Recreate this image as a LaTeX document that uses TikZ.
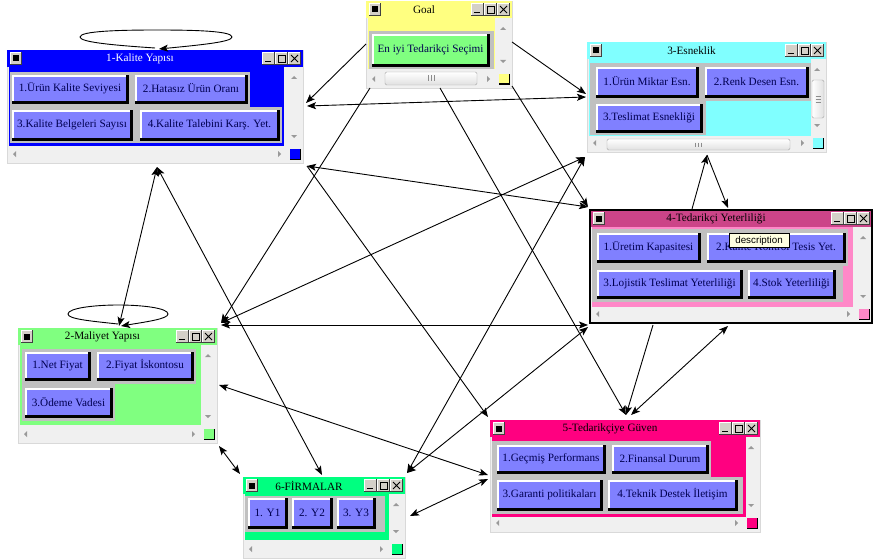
\documentclass[tikz,border=0pt]{standalone}
\usepackage{fontspec}
\setmainfont{Liberation Serif}
\newfontfamily\tipfont{Liberation Sans}
\usetikzlibrary{arrows.meta}
\definecolor{winbg}{HTML}{F0F0F0}
\definecolor{tkgray}{HTML}{D4D0C8}
\definecolor{panelgray}{HTML}{C0C0C0}
\definecolor{btnface}{HTML}{8080FF}
\definecolor{btntxt}{HTML}{000050}
\definecolor{kalitec}{HTML}{0000FF}
\definecolor{goalc}{HTML}{FFFF80}
\definecolor{goalbtn}{HTML}{80FF80}
\definecolor{esnekc}{HTML}{80FFFF}
\definecolor{tedtitle}{HTML}{CC4488}
\definecolor{tedbody}{HTML}{FF88C8}
\definecolor{maliyetc}{HTML}{80FF80}
\definecolor{guvenc}{HTML}{FF0080}
\definecolor{firmac}{HTML}{00FF80}
\definecolor{tipyellow}{HTML}{FFFFE1}
\tikzset{
  arr/.style={draw=black, line width=0.9pt, -{Stealth[length=9pt,width=7pt,inset=2pt]}},
  darr/.style={draw=black, line width=0.9pt, {Stealth[length=9pt,width=7pt,inset=2pt]}-{Stealth[length=9pt,width=7pt,inset=2pt]}},
  btntext/.style={inner sep=0pt, font=\fontsize{11.2}{12}\selectfont, text=btntxt},
  titletext/.style={inner sep=0pt, font=\fontsize{11.2}{12}\selectfont},
  tiptext/.style={inner sep=0pt, font=\tipfont\fontsize{9.8}{11}\selectfont},
}
\newcommand\TkBtn[4]{%
  \fill[black!75] (#1,#2) rectangle (#3,#4);
  \fill[white] (#1,#2) rectangle ({#3-1},{#4-1});
  \fill[tkgray] ({#1+1},{#2+1}) rectangle ({#3-1},{#4-1});
}
\newcommand\PanBtn[7]{%
  \fill[black] (#2,#3) rectangle (#4,#5);
  \fill[white] (#2,#3) rectangle ({#4-3},{#5-3});
  \fill[#6] ({#2+2},{#3+2}) rectangle ({#4-3},{#5-3});
  \node[btntext] (#1) at ({(#2+#4)/2-0.5},{(#3+#5)/2-1}) {#7};
}
\newcommand\WinFrame[8]{%
  \fill[winbg] (#1,#2) rectangle (#3,#4);
  \draw[line width=0.4pt, black!15] (#1,#2) rectangle (#3,#4);
  \fill[#5] (#1,#2) rectangle (#3,{#2+17});
  \TkBtn{#1+3}{#2+2}{#1+15}{#2+15}
  \fill[black] ({#1+6},{#2+5.5}) rectangle ({#1+12},{#2+11.5});
  \TkBtn{#3-41}{#2+2}{#3-28}{#2+15}
  \draw[black,line width=1.5pt] ({#3-38},{#2+11.5}) -- ({#3-32},{#2+11.5});
  \TkBtn{#3-28}{#2+2}{#3-15}{#2+15}
  \draw[black,line width=0.8pt] ({#3-25},{#2+5}) rectangle ({#3-18},{#2+12});
  \draw[black,line width=1.2pt] ({#3-25},{#2+5.4}) -- ({#3-18},{#2+5.4});
  \TkBtn{#3-15}{#2+2}{#3-2}{#2+15}
  \draw[black,line width=1pt] ({#3-12},{#2+5}) -- ({#3-5},{#2+12}) ({#3-12},{#2+12}) -- ({#3-5},{#2+5});
  \node[titletext,text=#6] (#8) at ({(#1+#3)/2-15},{#2+9}) {#7};
}
\newcommand\WinScroll[5]{%
  \fill[black!40] ({#3-12},{#2+29}) -- ({#3-6},{#2+29}) -- ({#3-9},{#2+26}) -- cycle;
  \fill[black!40] ({#3-12},{#4-28}) -- ({#3-6},{#4-28}) -- ({#3-9},{#4-25}) -- cycle;
  \fill[black!40] ({#1+9},{#4-12}) -- ({#1+9},{#4-6}) -- ({#1+6},{#4-9}) -- cycle;
  \fill[black!40] ({#3-25},{#4-12}) -- ({#3-25},{#4-6}) -- ({#3-22},{#4-9}) -- cycle;
  \fill[black] ({#3-13},{#4-14}) rectangle ({#3-2},{#4-3});
  \fill[#5] ({#3-13},{#4-14}) rectangle ({#3-3.5},{#4-4.5});
}
\newcommand\HThumb[4]{%
  \shade[top color=white, bottom color=black!12, draw=black!35, rounded corners=1.5pt] (#1,#2) rectangle (#3,#4);
  \draw[black!45, line width=0.6pt] ({(#1+#3)/2-3},{#2+3.5}) -- ({(#1+#3)/2-3},{#4-3.5})
    ({(#1+#3)/2},{#2+3.5}) -- ({(#1+#3)/2},{#4-3.5})
    ({(#1+#3)/2+3},{#2+3.5}) -- ({(#1+#3)/2+3},{#4-3.5});
}
\newcommand\VThumb[4]{%
  \shade[left color=white, right color=black!12, draw=black!35, rounded corners=1.5pt] (#1,#2) rectangle (#3,#4);
  \draw[black!45, line width=0.6pt] ({#1+3.5},{(#2+#4)/2-3}) -- ({#3-3.5},{(#2+#4)/2-3})
    ({#1+3.5},{(#2+#4)/2}) -- ({#3-3.5},{(#2+#4)/2})
    ({#1+3.5},{(#2+#4)/2+3}) -- ({#3-3.5},{(#2+#4)/2+3});
}
\begin{document}
\begin{tikzpicture}[x=1pt,y=-1pt]
\useasboundingbox (0,0) rectangle (882,559);
\fill[white] (0,0) rectangle (882,559);

% ---------------- Goal
\WinFrame{366}{1}{512}{88}{goalc}{black}{Goal}{goalT}
\fill[goalc] (368,18) rectangle (495,69);
\fill[panelgray] (369,31) rectangle (494,69);
\PanBtn{goalB}{372}{34}{490}{67}{goalbtn}{En iyi Tedarikçi Seçimi}
\WinScroll{366}{1}{512}{88}{goalc}
\HThumb{385}{72}{477}{85}

% ---------------- 1 Kalite
\WinFrame{7}{50}{303}{163}{kalitec}{white}{1-Kalite Yapısı}{kalT}
\fill[kalitec] (9,67) rectangle (284,146);
\fill[panelgray] (10,72) rectangle (250,107);
\fill[panelgray] (10,107) rectangle (282,143);
\PanBtn{kalB1}{12}{75}{129}{104}{btnface}{1.Ürün Kalite Seviyesi}
\PanBtn{kalB2}{135}{75}{248}{104}{btnface}{2.Hatasız Ürün Oranı}
\PanBtn{kalB3}{12}{110}{133}{141}{btnface}{3.Kalite Belgeleri Sayısı}
\PanBtn{kalB4}{140}{110}{280}{141}{btnface}{4.Kalite Talebini Karş. Yet.}
\WinScroll{7}{50}{303}{163}{kalitec}

% ---------------- 3 Esneklik
\WinFrame{587}{42}{826}{152}{esnekc}{black}{3-Esneklik}{esnT}
\fill[esnekc] (589,59) rectangle (811,136);
\fill[panelgray] (590,63) rectangle (811,101);
\fill[panelgray] (590,101) rectangle (706,135);
\PanBtn{esnB1}{596}{67}{699}{98}{btnface}{1.Ürün Miktar Esn.}
\PanBtn{esnB2}{705}{67}{809}{98}{btnface}{2.Renk Desen Esn.}
\PanBtn{esnB3}{596}{104}{703}{133}{btnface}{3.Teslimat Esnekliği}
\WinScroll{587}{42}{826}{152}{esnekc}
\VThumb{812}{80}{824}{118}
\HThumb{607}{139}{790}{150}

% ---------------- 4 Tedarikci Yeterliligi
\WinFrame{590}{210}{872}{323}{tedtitle}{black}{4-Tedarikçi Yeterliliği}{tedT}
\fill[tedbody] (592,227) rectangle (853,307);
\fill[panelgray] (592,229) rectangle (848,266);
\fill[panelgray] (592,266) rectangle (843,302);
\PanBtn{tedB1}{597}{233}{701}{263}{btnface}{1.Üretim Kapasitesi}
\PanBtn{tedB2}{707}{233}{846}{263}{btnface}{2.Kalite Kontrol Tesis Yet.}
\PanBtn{tedB3}{597}{270}{743}{299}{btnface}{3.Lojistik Teslimat Yeterliliği}
\PanBtn{tedB4}{748}{270}{836}{299}{btnface}{4.Stok Yeterliliği}
\WinScroll{590}{210}{872}{323}{tedbody}
\draw[black,line width=1.6pt] (590,210) rectangle (872,323);
\fill[tipyellow] (729,233) rectangle (789,247);
\draw[black,line width=0.6pt] (729,233) rectangle (789,247);
\node[tiptext] (tipN) at (759,240.5) {description};

% ---------------- 2 Maliyet
\WinFrame{18}{328}{217}{443}{maliyetc}{black}{2-Maliyet Yapısı}{malT}
\fill[maliyetc] (20,345) rectangle (201,425);
\fill[panelgray] (22,349) rectangle (196,384);
\fill[panelgray] (22,384) rectangle (115,421);
\PanBtn{malB1}{25}{352}{91}{381}{btnface}{1.Net Fiyat}
\PanBtn{malB2}{97}{352}{194}{381}{btnface}{2.Fiyat İskontosu}
\PanBtn{malB3}{25}{388}{113}{418}{btnface}{3.Ödeme Vadesi}
\WinScroll{18}{328}{217}{443}{maliyetc}

% ---------------- 5 Guven
\WinFrame{490}{420}{760}{532}{guvenc}{black}{5-Tedarikçiye Güven}{guvT}
\fill[guvenc] (492,437) rectangle (746,517);
\fill[panelgray] (492,441) rectangle (711,477);
\fill[panelgray] (492,477) rectangle (743,514);
\PanBtn{guvB1}{497}{445}{606}{474}{btnface}{1.Geçmiş Performans}
\PanBtn{guvB2}{612}{445}{709}{474}{btnface}{2.Finansal Durum}
\PanBtn{guvB3}{497}{480}{603}{511}{btnface}{3.Garanti politikaları}
\PanBtn{guvB4}{608}{480}{738}{511}{btnface}{4.Teknik Destek İletişim}
\WinScroll{490}{420}{760}{532}{guvenc}

% ---------------- 6 Firmalar
\WinFrame{243}{477}{405}{558}{firmac}{black}{6-FİRMALAR}{firT}
\fill[firmac] (245,494) rectangle (389,540);
\fill[panelgray] (245,496) rectangle (385,532);
\PanBtn{firB1}{248}{498}{288}{529}{btnface}{1. Y1}
\PanBtn{firB2}{292}{498}{333}{529}{btnface}{2. Y2}
\PanBtn{firB3}{337}{498}{376}{529}{btnface}{3. Y3}
\WinScroll{243}{477}{405}{558}{firmac}

% ---------------- connector end points
\coordinate (gL) at (366,44);
\coordinate (gR) at (512,42);
\coordinate (gB1) at (370,88);
\coordinate (gB2) at (440,88);
\coordinate (gB3) at (512,86);
\coordinate (kR1) at (306,103);
\coordinate (kR2) at (307,106);
\coordinate (kBR) at (307,166);
\coordinate (kB) at (157,167);
\coordinate (eL1) at (586,97);
\coordinate (eL2) at (586,94);
\coordinate (eBL) at (585,157);
\coordinate (eB) at (707,155);
\coordinate (tTL) at (588,207);
\coordinate (tT1) at (692,209);
\coordinate (tT2) at (728,208);
\coordinate (tBL) at (588,325);
\coordinate (tBL2) at (588,327);
\coordinate (tB1) at (653,325);
\coordinate (tB2) at (728,326);
\coordinate (mTR) at (221,323);
\coordinate (mTR2) at (221,325);
\coordinate (mT) at (119,326);
\coordinate (mR) at (219,385);
\coordinate (mBR) at (219,446);
\coordinate (gvT) at (626,415);
\coordinate (gvT2) at (631,415);
\coordinate (gvTL) at (488,417);
\coordinate (gvL1) at (488,475);
\coordinate (gvL2) at (488,479);
\coordinate (fT) at (322,475);
\coordinate (fTL) at (240,474);
\coordinate (fTR) at (407,473);
\coordinate (fR) at (410,516);

% ---------------- connectors
\draw[arr] (gL) -- (kR1);
\draw[darr] (kR2) -- (eL1);
\draw[arr] (gR) -- (eL2);
\draw[darr] (kBR) -- (tTL);
\draw[arr] (gB3) -- (tTL);
\draw[arr] (gB1) -- (mTR);
\draw[darr] (mTR) -- (eBL);
\draw[darr] (mTR2) -- (tBL);
\draw[darr] (fTR) -- (eBL);
\draw[darr] (fTR) -- (tBL2);
\draw[arr] (gB2) -- (gvT);
\draw[arr] (tB1) -- (gvT);
\draw[darr] (gvT2) -- (tB2);
\draw[arr] (tT1) -- (eB);
\draw[arr] (eB) -- (tT2);
\draw[darr] (kB) -- (fT);
\draw[darr] (kB) -- (mT);
\draw[arr] (kBR) -- (gvTL);
\draw[darr] (mR) -- (gvL1);
\draw[darr] (mBR) -- (fTL);
\draw[darr] (fR) -- (gvL2);

% self loops
\draw[arr] (155,48) .. controls (110,45) and (80,42) .. (80,37) .. controls (80,31) and (120,30) .. (157,30) .. controls (195,30) and (232,31) .. (232,37) .. controls (232,42) and (200,45) .. (159,49);
\draw[arr] (118,324) .. controls (90,321) and (68,319) .. (68,314) .. controls (68,308) and (95,305) .. (118,305) .. controls (142,305) and (168,308) .. (168,314) .. controls (168,319) and (145,322) .. (121,326);
\end{tikzpicture}
\end{document}
